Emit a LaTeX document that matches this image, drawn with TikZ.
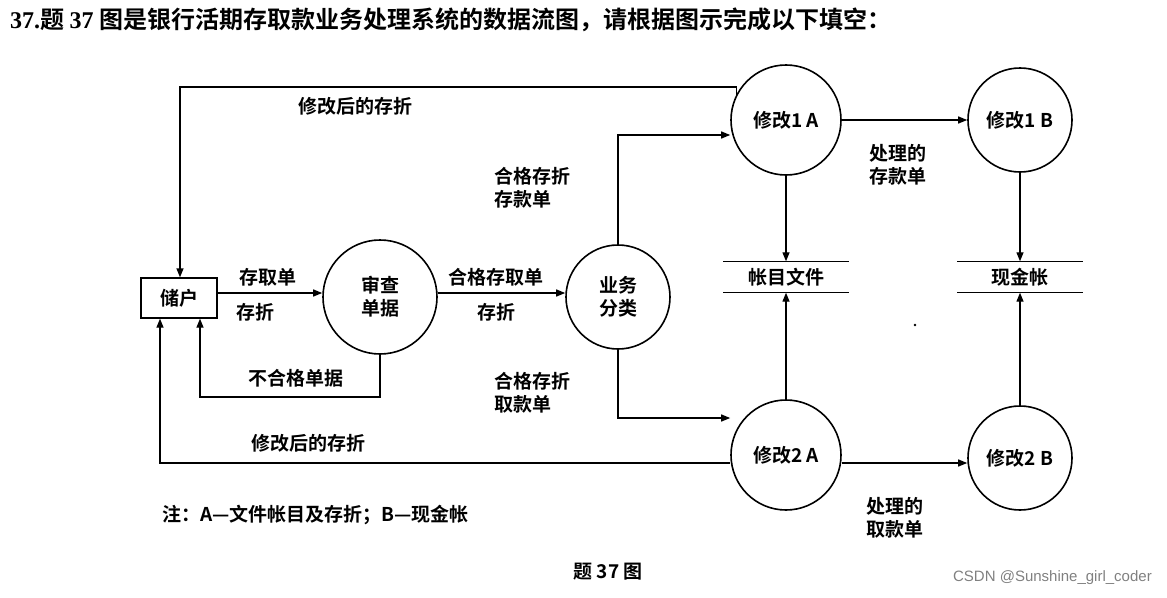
\documentclass[tikz,border=0pt]{standalone}
\usepackage{fontspec}
\setmainfont{Liberation Serif}
\newfontfamily\cjk{Noto Sans CJK SC Bold}
\usetikzlibrary{arrows.meta}
\begin{document}
\begin{tikzpicture}[x=1pt,y=-1pt,
  every node/.style={font=\cjk\fontsize{19}{23}\selectfont},
  proc/.style={draw,circle,line width=1.6pt,minimum size=106pt,inner sep=0pt,align=center},
  flow/.style={line width=1.3pt,-{Triangle[length=9pt,width=7pt]}},
  lbl/.style={align=left,inner sep=0pt}]
\useasboundingbox (0,0) rectangle (1167,597);
\node[anchor=west,inner sep=0pt,font=\cjk\fontsize{24}{28}\selectfont] (title) at (10,20) {{\fontspec{Liberation Serif}\bfseries 37.}题 {\fontspec{Liberation Serif}\bfseries 37} 图是银行活期存取款业务处理系统的数据流图，请根据图示完成以下填空：};
\node[draw,line width=1.3pt,minimum width=76pt,minimum height=40pt] (cust) at (179,298) {储户};
\node[proc,minimum size=114pt] (chk) at (380,297) {审查\\单据};
\node[proc,minimum size=104pt] (cls) at (618,297) {业务\\分类};
\node[proc,minimum size=110pt] (m1a) at (786,120) {修改1 A};
\node[proc,minimum size=104pt] (m1b) at (1020,120) {修改1 B};
\node[proc,minimum size=110pt] (m2a) at (786,455) {修改2 A};
\node[proc,minimum size=104pt] (m2b) at (1020,458) {修改2 B};
% stores
\node[minimum width=125pt,minimum height=31pt,inner sep=0pt] (acc) at (786,277) {帐目文件};
\draw[line width=1.3pt] (acc.north west)--(acc.north east) (acc.south west)--(acc.south east);
\node[minimum width=125pt,minimum height=31pt,inner sep=0pt] (cash) at (1020,277) {现金帐};
\draw[line width=1.3pt] (cash.north west)--(cash.north east) (cash.south west)--(cash.south east);
% flows
\coordinate (t1) at (180,87);
\draw[flow] (m1a.153) |- (t1) -- (cust.north -| t1);
\node[lbl] at (355,106) {修改后的存折};
\draw[flow] (cust.east |- 0,293) -- (chk.west |- 0,293);
\node[lbl] at (268,277) {存取单};
\node[lbl] at (255,312) {存折};
\coordinate (b1) at (380,397);
\draw[flow] (chk.south) -- (b1) -| (cust.south -| 200,0);
\node[lbl] at (296,378) {不合格单据};
\draw[flow] (chk.east |- 0,293) -- (cls.west |- 0,293);
\node[lbl] at (496,277) {合格存取单};
\node[lbl] at (496,312) {存折};
\draw[flow] (cls.north) |- (m1a.west |- 0,135);
\node[lbl] at (532,188) {合格存折\\存款单};
\draw[flow] (cls.south) |- (m2a.west |- 0,418);
\node[lbl] at (532,393) {合格存折\\取款单};
\draw[flow] (m1a) -- (acc.north);
\draw[flow] (m2a) -- (acc.south);
\draw[flow] (m1a.east) -- (m1b.west |- m1a.east);
\node[lbl] at (898,165) {处理的\\存款单};
\draw[flow] (m1b) -- (cash.north);
\draw[flow] (m2b) -- (cash.south);
\coordinate (b2) at (160,463);
\draw[flow] (m2a.west |- b2) -- (b2) -- (cust.south -| b2);
\draw[flow] (m2a.east |- b2) -- (m2b.west |- b2);
\node[lbl] at (308,443) {修改后的存折};
\node[lbl] at (895,518) {处理的\\取款单};
\node[lbl,anchor=west] at (162,515) {注：A—文件帐目及存折；B—现金帐};
\node[lbl] at (608,572) {题 37 图};
\fill (915,325) circle (1.3pt);
\node[lbl,anchor=east,text=gray,font=\fontspec{Liberation Sans}\fontsize{15}{17}\selectfont] at (1152,578) {CSDN @Sunshine\_girl\_coder};
\end{tikzpicture}
\end{document}
